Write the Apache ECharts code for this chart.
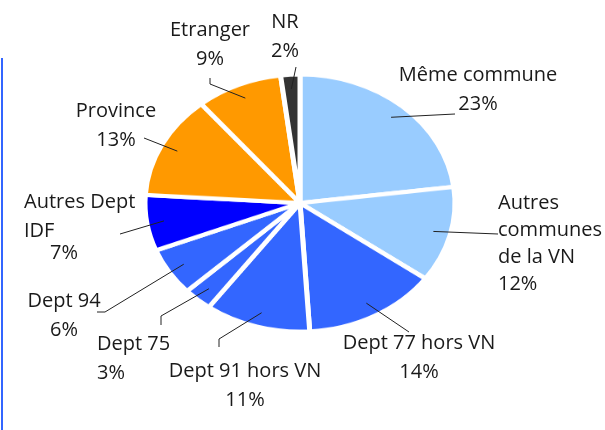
<!DOCTYPE html>
<html>
<head>
<meta charset="utf-8">
<title>Provenance</title>
<script src="https://cdn.jsdelivr.net/npm/echarts@6/dist/echarts.min.js"></script>
<style>
  html, body { margin: 0; padding: 0; background: #fff; }
  .com-container { position: relative; width: 605px; height: 430px; overflow: hidden; }
  .com-chart { position: absolute; left: 0; top: 0; width: 605px; height: 430px; }
  /* the original pie is an ellipse, echarts only draws circles */
  .pie-squash { transform: scaleY(0.83); transform-origin: 0 203px; }
</style>
</head>
<body>
<div class="com-container">
  <div class="com-chart pie-squash" id="pie_ref"></div>
  <div class="com-chart" id="label_ref"></div>
</div>
<script>
// data
const categories = [
  'Même commune',
  'Autres\ncommunes\nde la VN',
  'Dept 77 hors VN',
  'Dept 91 hors VN',
  'Dept 75',
  'Dept 94',
  'Autres Dept\nIDF',
  'Province',
  'Etranger',
  'NR'
]
const shares = [23, 12, 14, 11, 3, 6, 7, 13, 9, 2]

// look
const sliceColors = ['#99CCFF', '#99CCFF', '#3366FF', '#3366FF', '#3366FF', '#3366FF', '#0000FF', '#FF9900', '#FF9900', '#333333']
const center = [300, 203]
const radius = 155
const squash = 0.83
const labelSpots = [
  { x: 478, y: 90, align: 'center', tail: [[455, 114]] },
  { x: 498, y: 244, align: 'left', lh: 27, tail: [[498, 234]] },
  { x: 419, y: 358, align: 'center', tail: [[409, 332]] },
  { x: 245, y: 386, align: 'center', tail: [[219, 339], [219, 347]] },
  { x: 97, y: 359, align: 'left', tail: [[161, 316], [161, 325]] },
  { x: 64, y: 316, align: 'center', tail: [[105, 312], [97, 312]] },
  { x: 24, y: 224, align: 'left', tail: [[120, 234]] },
  { x: 116, y: 126, align: 'center', tail: [[144, 138]] },
  { x: 210, y: 45, align: 'center', tail: [[210, 84], [210, 78]] },
  { x: 285, y: 37, align: 'center', tail: [[296, 67]] }
]

const total = shares.reduce((a, b) => a + b, 0)
let acc = 0
const midAngles = shares.map(v => {
  const m = (acc + v / 2) / total * Math.PI * 2
  acc += v
  return m
})

const pieChart = echarts.init(document.getElementById('pie_ref'))
pieChart.setOption({
  animation: false,
  series: [
    {
      type: 'pie',
      center: center,
      radius: radius,
      startAngle: 90,
      label: { show: false },
      labelLine: { show: false },
      emphasis: { disabled: true },
      itemStyle: { borderColor: '#fff', borderWidth: 5 },
      data: categories.map((name, i) => ({
        name: name,
        value: shares[i],
        itemStyle: { color: sliceColors[i] }
      }))
    }
  ]
})

// second layer: same pie, invisible, only carries the texts and leader lines
const labelChart = echarts.init(document.getElementById('label_ref'))
labelChart.setOption({
  animation: false,
  graphic: [
    {
      type: 'rect',
      left: 1,
      top: 58,
      shape: { width: 2, height: 372 },
      style: { fill: '#3366FF' }
    }
  ],
  series: [
    {
      type: 'pie',
      center: center,
      radius: radius,
      startAngle: 90,
      silent: true,
      avoidLabelOverlap: false,
      emphasis: { disabled: true },
      itemStyle: { color: 'rgba(0,0,0,0)' },
      label: {
        show: true,
        color: '#1a1a1a',
        fontFamily: 'Open Sans',
        fontSize: 20,
        lineHeight: 29,
        formatter: p => p.dataIndex === 6
          ? p.name + '\n{i|' + p.value + '%}'
          : p.name + '\n' + p.value + '%',
        rich: {
          i: { padding: [0, 0, 0, 26], lineHeight: 14, fontSize: 20, color: '#1a1a1a', fontFamily: 'Open Sans' }
        }
      },
      labelLine: {
        show: true,
        lineStyle: { color: '#222', width: 1 }
      },
      labelLayout: params => {
        const spot = labelSpots[params.dataIndex]
        const m = midAngles[params.dataIndex]
        const start = [
          center[0] + 0.9 * (radius - 2) * Math.sin(m),
          center[1] - 0.9 * (radius - 2) * squash * Math.cos(m)
        ]
        return {
          x: spot.x,
          y: spot.y,
          align: spot.align,
          verticalAlign: 'middle',
          labelLinePoints: [start].concat(spot.tail)
        }
      },
      data: categories.map((name, i) => ({
        name: name,
        value: shares[i],
        label: labelSpots[i].lh ? { lineHeight: labelSpots[i].lh } : {}
      }))
    }
  ]
})
</script>
</body>
</html>
